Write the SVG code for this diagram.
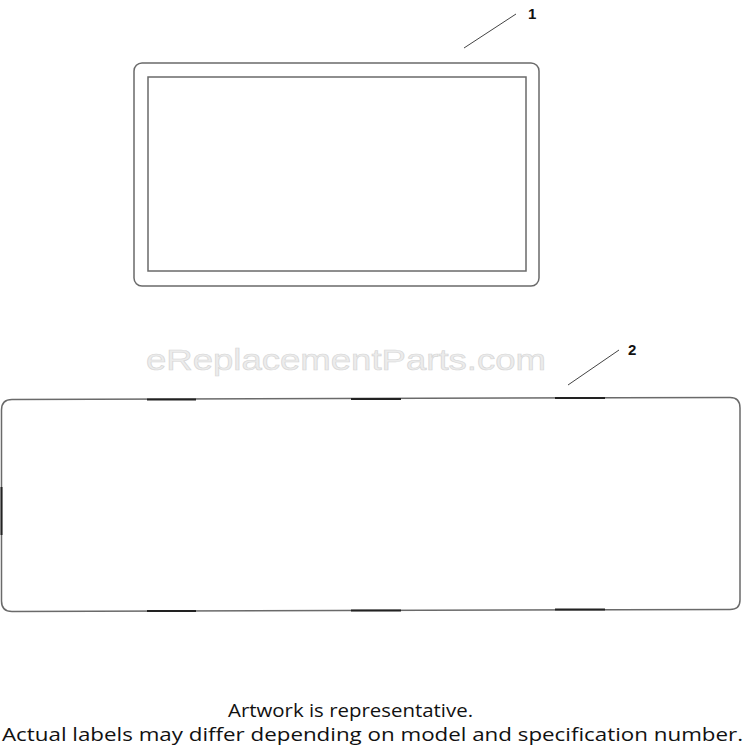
<svg xmlns="http://www.w3.org/2000/svg" width="750" height="750" viewBox="0 0 750 750">
<style>
.o{fill:none;stroke:#6a6a6a;stroke-width:1.5}
.d{stroke:#222;stroke-width:2}
.l{stroke:#444;stroke-width:1}
.n{font-family:"Liberation Sans",Arial,sans-serif;font-weight:bold;font-size:15px;fill:#111}
.t{font-family:"Open Sans","Liberation Sans",sans-serif;font-size:17.5px;fill:#111}
.w{font-family:"Liberation Sans",Arial,sans-serif;font-size:29px;fill:#ececec;stroke:#d6d6d6;stroke-width:0.6}
</style>
<rect width="750" height="750" fill="#fff"/>
<g id="part1">
<rect class="o" x="134" y="63" width="405" height="223" rx="8"/>
<rect class="o" x="148" y="77" width="378" height="194"/>
</g>
<g id="part2">
<path class="o" d="M12,399.5 L730,397.5 Q740,397.5 740,408 L740,600 Q740,609.5 730,609.5 L12,611.5 Q1.5,611.5 1.5,601 L1.5,410 Q1.5,399.5 12,399.5 Z"/>
<line class="d" x1="147" y1="399.5" x2="196" y2="399.5"/>
<line class="d" x1="351" y1="399" x2="401" y2="399"/>
<line class="d" x1="555" y1="398" x2="605" y2="398"/>
<line class="d" x1="147" y1="611" x2="196" y2="611"/>
<line class="d" x1="351" y1="610.5" x2="401" y2="610.5"/>
<line class="d" x1="555" y1="609.5" x2="605" y2="609.5"/>
<line class="d" x1="1.5" y1="487" x2="1.5" y2="535"/>
</g>
<text class="w" x="346" y="370" text-anchor="middle" textLength="400" lengthAdjust="spacingAndGlyphs">eReplacementParts.com</text>
<g id="connectors">
<line class="l" x1="464" y1="48" x2="516" y2="14"/>
<line class="l" x1="568" y1="385" x2="619" y2="350"/>
</g>
<text class="n" x="528" y="19">1</text>
<text class="n" x="628" y="355">2</text>
<text class="t" x="228" y="717" textLength="245" lengthAdjust="spacingAndGlyphs">Artwork is representative.</text>
<text class="t" x="2" y="741" textLength="741" lengthAdjust="spacingAndGlyphs">Actual labels may differ depending on model and specification number.</text>
</svg>
